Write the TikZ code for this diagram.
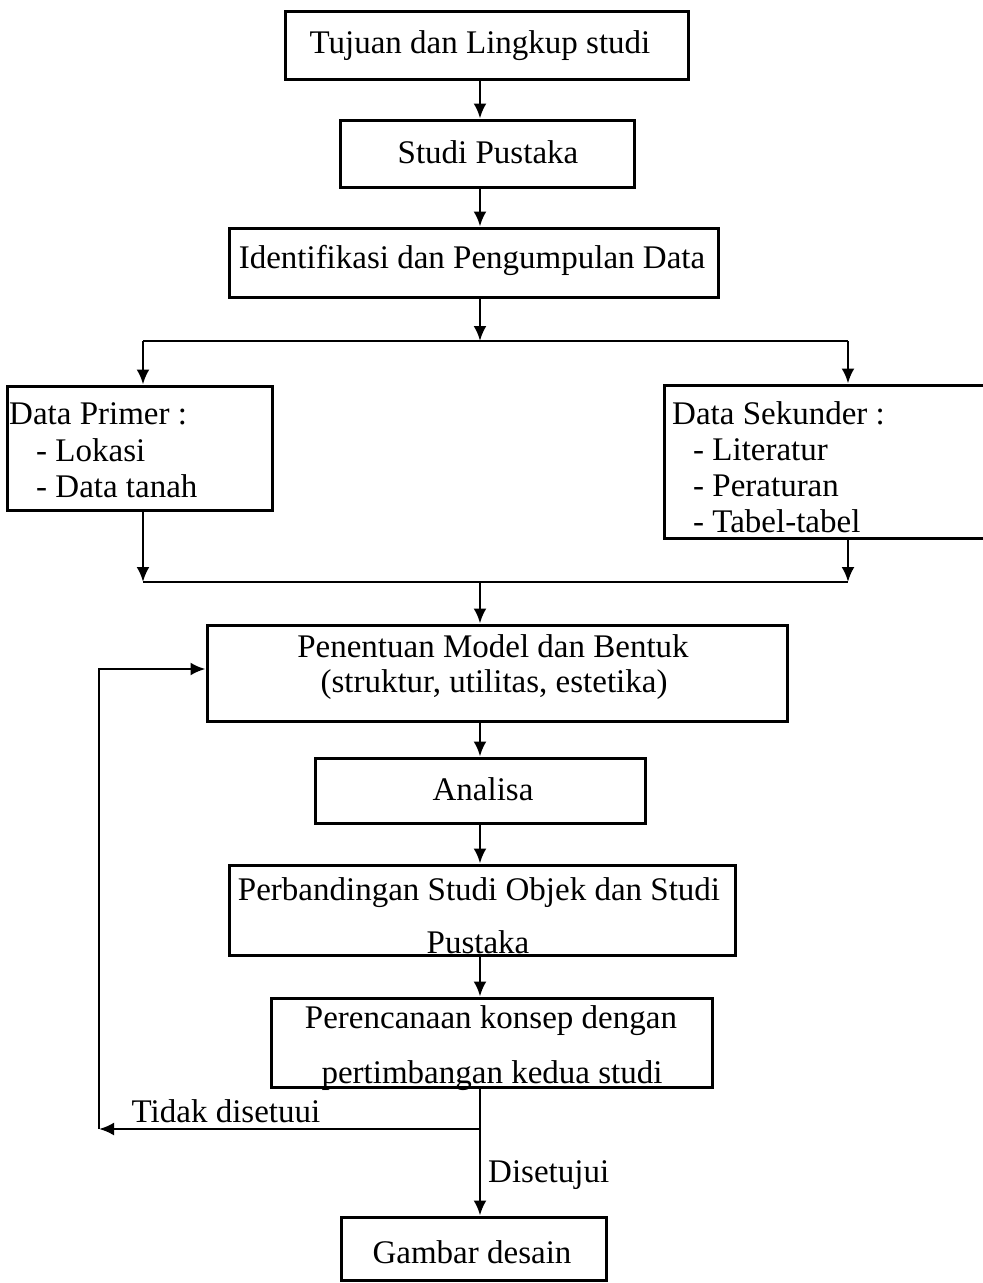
\documentclass[tikz,border=0pt]{standalone}
\usepackage{fontspec}
\setmainfont{Liberation Serif}
\usetikzlibrary{arrows.meta}
\begin{document}
\begin{tikzpicture}[x=1pt,y=-1pt,
  box/.style={draw, line width=3pt, inner sep=0pt, rectangle},
  txt/.style={anchor=base, inner sep=0pt, font=\fontsize{33}{36}\selectfont},
  ltxt/.style={anchor=base west, inner sep=0pt, font=\fontsize{33}{36}\selectfont},
  conn/.style={line width=2.6pt},
  arr/.style={line width=2.6pt, -{Latex[length=15pt,width=13pt]}}]
\useasboundingbox (0,0) rectangle (983,1283);
% boxes
\node[box, minimum width=403pt, minimum height=68pt] (b1) at (486.5,45) {};
\node[box, minimum width=294pt, minimum height=67pt] (b2) at (487,153.5) {};
\node[box, minimum width=489pt, minimum height=69pt] (b3) at (473.5,262.5) {};
\node[box, minimum width=265pt, minimum height=124pt] (b4) at (139.5,448) {};
\node[box, minimum width=331pt, minimum height=153pt] (b5) at (829.5,461.5) {};
\node[box, minimum width=580pt, minimum height=96pt] (b6) at (497,673) {};
\node[box, minimum width=330pt, minimum height=65pt] (b7) at (480,790.5) {};
\node[box, minimum width=506pt, minimum height=90pt] (b8) at (482,910) {};
\node[box, minimum width=441pt, minimum height=89pt] (b9) at (491.5,1042.5) {};
\node[box, minimum width=265pt, minimum height=63pt] (b10) at (473.5,1248.5) {};
% texts
\node[txt] (t1) at (480,53) {Tujuan dan Lingkup studi};
\node[txt] (t2) at (488,163) {Studi Pustaka};
\node[txt] (t3) at (472,268) {Identifikasi dan Pengumpulan Data};
\node[ltxt] (t4a) at (9,424) {Data Primer :};
\node[ltxt] (t4b) at (36,461) {- Lokasi};
\node[ltxt] (t4c) at (36,497) {- Data tanah};
\node[ltxt] (t5a) at (672,424) {Data Sekunder :};
\node[ltxt] (t5b) at (693,460) {- Literatur};
\node[ltxt] (t5c) at (693,496) {- Peraturan};
\node[ltxt] (t5d) at (693,532) {- Tabel-tabel};
\node[txt] (t6a) at (493,657) {Penentuan Model dan Bentuk};
\node[txt] (t6b) at (494,692) {(struktur, utilitas, estetika)};
\node[txt] (t7) at (483,800) {Analisa};
\node[txt] (t8a) at (479,900) {Perbandingan Studi Objek dan Studi};
\node[txt] (t8b) at (478,953) {Pustaka};
\node[txt] (t9a) at (491,1028) {Perencanaan konsep dengan};
\node[txt] (t9b) at (492,1083) {pertimbangan kedua studi};
\node[txt] (t10) at (472,1263) {Gambar desain};
\node[txt] (lno) at (226,1122) {Tidak disetuui};
\node[ltxt] (lyes) at (488,1182) {Disetujui};
% helper coordinates
\coordinate (tr) at (480,0);
\coordinate (lx) at (143,0);
\coordinate (rx) at (848,0);
\coordinate (split) at (480,341);
\coordinate (join) at (480,582);
\coordinate (branch) at (480,1129);
\coordinate (back) at (99,1129);
% connectors
\draw[arr] (b1.south -| tr) -- (b2.north -| tr);
\draw[arr] (b2.south -| tr) -- (b3.north -| tr);
\draw[arr] (b3.south -| tr) -- (split);
\draw[conn] (split -| lx) -- (split -| rx);
\draw[arr] (split -| lx) -- (b4.north -| lx);
\draw[arr] (split -| rx) -- (b5.north -| rx);
\draw[arr] (b4.south -| lx) -- (join -| lx);
\draw[arr] (b5.south -| rx) -- (join -| rx);
\draw[conn] (join -| lx) -- (join -| rx);
\draw[arr] (join) -- (b6.north -| tr);
\draw[arr] (b6.south -| tr) -- (b7.north -| tr);
\draw[arr] (b7.south -| tr) -- (b8.north -| tr);
\draw[arr] (b8.south -| tr) -- (b9.north -| tr);
\draw[arr] (b9.south -| tr) -- (b10.north -| tr);
\draw[arr] (branch) -- (back);
\draw[arr] (back) -- (back |- 0,669) -- (b6.west |- 0,669);
\end{tikzpicture}
\end{document}
